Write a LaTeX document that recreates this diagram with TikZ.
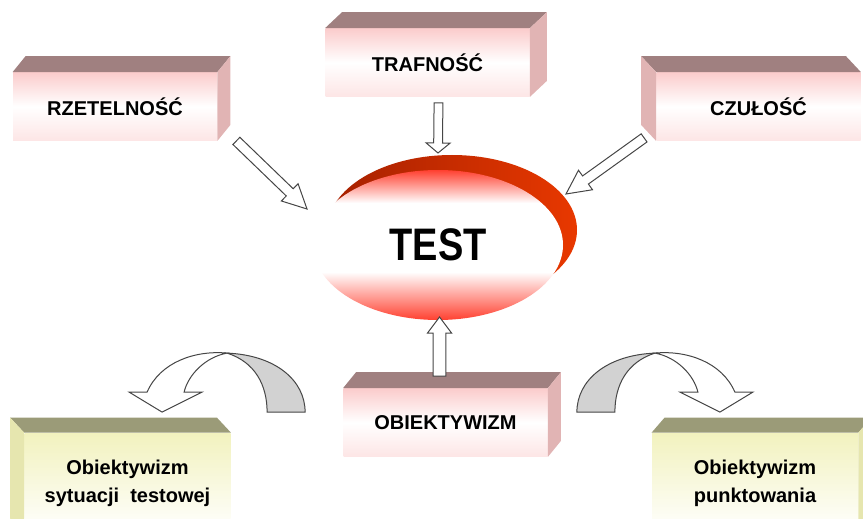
\documentclass[tikz,border=0pt]{standalone}
\usepackage{fontspec}
\setmainfont{Liberation Sans}
\usepackage{graphicx}
\usetikzlibrary{calc, positioning, shapes.geometric}

\definecolor{pinkfront}{RGB}{251,204,204}
\definecolor{pinktop}{RGB}{160,128,128}
\definecolor{pinkside}{RGB}{225,180,180}
\definecolor{yellowfront}{RGB}{242,242,190}
\definecolor{yellowtop}{RGB}{155,155,120}
\definecolor{yellowside}{RGB}{230,230,175}
\definecolor{testred}{RGB}{255,64,48}
\definecolor{shadowdark}{RGB}{165,32,0}
\definecolor{shadowred}{RGB}{232,56,0}
\definecolor{arrowline}{RGB}{70,70,70}
\definecolor{twistgray}{RGB}{210,210,210}

\pgfdeclareverticalshading{testshade}{100bp}{color(0bp)=(testred); color(25bp)=(testred);
  color(41bp)=(white); color(64bp)=(white); color(75bp)=(testred); color(100bp)=(testred)}

% front face node, depth dx dy, top colour, side colour, side
\newcommand{\cuboid}[6]{%
  \fill[#4] (#1.north west) -- ++(#2,#3) -- ($(#1.north east)+(#2,#3)$) -- (#1.north east) -- cycle;
  \fill[#5] (#1.north #6) -- ++(#2,#3) -- ($(#1.south #6)+(#2,#3)$) -- (#1.south #6) -- cycle;}

% tail, tip, head length, half shaft
\newcommand{\blockarrow}[4]{%
  \coordinate (neck) at ($(#2)!#3!(#1)$);
  \draw[blockarr] ($(#1)!#4!90:(#2)$) -- ($(neck)!#4!-90:(#1)$) -- ($(neck)!6pt!-90:(#1)$)
    -- (#2) -- ($(neck)!6pt!90:(#1)$) -- ($(neck)!#4!90:(#1)$) -- ($(#1)!#4!-90:(#2)$) -- cycle;}

\begin{document}
\begin{tikzpicture}[x=0.5pt, y=-0.5pt,
  pinkbox/.style={rectangle, minimum width=102pt, minimum height=34pt, inner sep=0pt,
    top color=pinkfront, bottom color=pinkfront!50!white, middle color=white,
    font=\fontsize{10}{12}\selectfont\bfseries},
  yellowbox/.style={rectangle, minimum width=103pt, minimum height=50pt, inner sep=0pt,
    top color=yellowfront, bottom color=white, align=center,
    font=\fontsize{10}{14}\selectfont\bfseries},
  blockarr/.style={fill=white, draw=arrowline, line width=0.5pt},
  twist/.pic={
    \filldraw[fill=twistgray, draw=arrowline, line width=0.5pt] (0,0)
      .. controls (48,2) and (78,27) .. (78,59) -- (40,59)
      .. controls (40,32) and (28,9) .. (0,0) -- cycle;
    \filldraw[fill=white, draw=arrowline, line width=0.5pt] (-80,39)
      .. controls (-67,9) and (-32,-3) .. (0,0)
      .. controls (-22,4) and (-39,22) .. (-43,39)
      -- (-25,39) -- (-65,59) -- (-98,39) -- cycle;
  }]
  \useasboundingbox (0,0) rectangle (863,519);

  % boxes
  \node[pinkbox] (rz) at (115,106.5) {RZETELNOŚĆ};
  \node[pinkbox] (traf) at (427.5,62.5) {TRAFNOŚĆ};
  \node[pinkbox] (czul) at (758.5,106.5) {CZUŁOŚĆ};
  \node[pinkbox] (obj) at (445.5,422.5) {OBIEKTYWIZM};
  \node[yellowbox] (sit) at (127.5,483) {Obiektywizm\\sytuacji\ \ testowej};
  \node[yellowbox] (punkt) at (755,483) {Obiektywizm\\punktowania};
  \cuboid{rz}{13}{-16}{pinktop}{pinkside}{east}
  \cuboid{traf}{17}{-16}{pinktop}{pinkside}{east}
  \cuboid{czul}{-15}{-16}{pinktop}{pinkside}{west}
  \cuboid{obj}{13}{-16}{pinktop}{pinkside}{east}
  \cuboid{sit}{-14}{-15}{yellowtop}{yellowside}{west}
  \cuboid{punkt}{13}{-15}{yellowtop}{yellowside}{east}

  % test
  \node[ellipse, minimum width=125pt, minimum height=75pt, inner sep=0pt,
    left color=shadowdark, right color=shadowred] (test-shadow) at (452,230) {};
  \node[ellipse, minimum width=125pt, minimum height=75pt, inner sep=0pt,
    shading=testshade, font=\fontsize{19}{19}\selectfont\bfseries] (test) at (438,245)
    {\scalebox{1}[1.2]{TEST}};

  % arrows
  \coordinate (rz-tip) at ($(test.center)+(-131,-36)$);
  \coordinate (traf-tip) at ($(test.center)+(0,-92)$);
  \coordinate (czul-tip) at ($(test.center)+(128,-51)$);
  \coordinate (obj-tip) at ($(test.center)+(1.5,72)$);
  \blockarrow{$(rz.south east)+(19,0)$}{rz-tip}{12pt}{2.5pt}
  \blockarrow{$(traf.south)+(11,6)$}{traf-tip}{5pt}{2.2pt}
  \blockarrow{$(czul.south west)+(-12,-3)$}{czul-tip}{12pt}{2.5pt}
  \blockarrow{$(obj.north)+(-6,-12)$}{obj-tip}{8pt}{3.2pt}

  % twisted arrows
  \pic at ($(obj.north west)+(-116,-35)$) {twist};
  \pic[xscale=-1] at ($(obj.north east)+(107,-35)$) {twist};
\end{tikzpicture}
\end{document}
